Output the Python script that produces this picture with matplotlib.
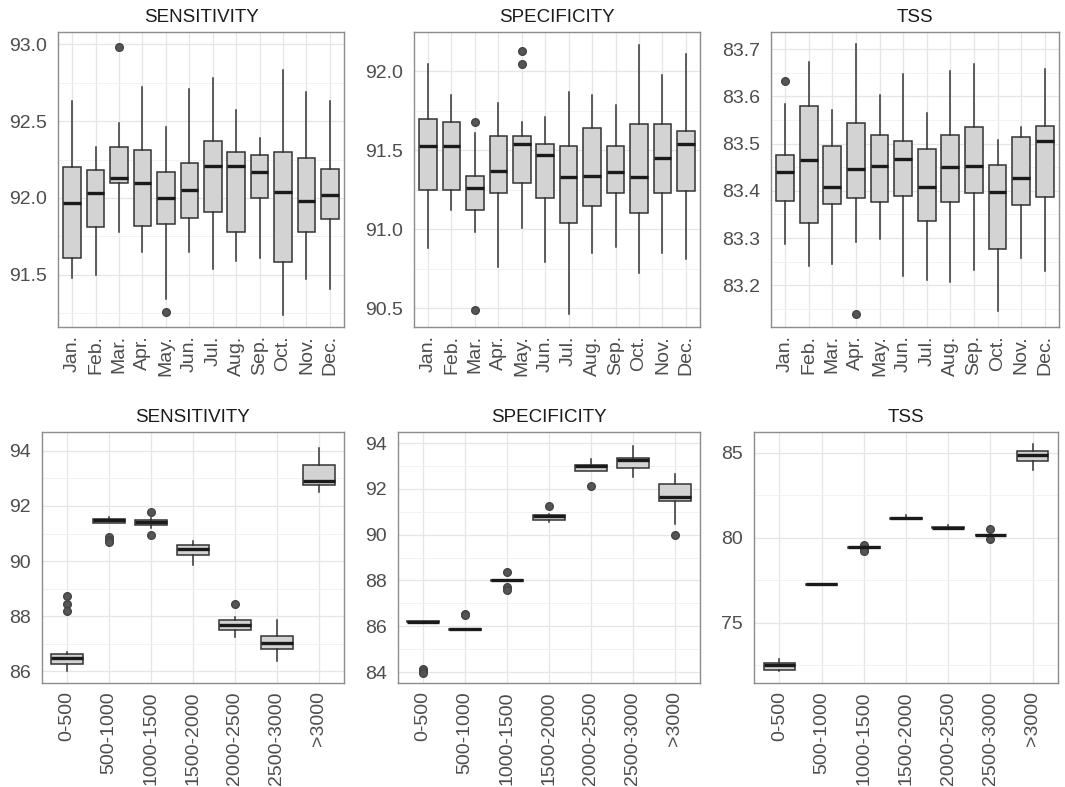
import matplotlib.pyplot as plt
from matplotlib.ticker import MultipleLocator, AutoMinorLocator, FormatStrFormatter

plt.rcParams['font.family'] = ['Liberation Sans', 'DejaVu Sans']

months = ["Jan.", "Feb.", "Mar.", "Apr.", "May.", "Jun.", "Jul.", "Aug.", "Sep.", "Oct.", "Nov.", "Dec."]
ranges = ["0-500", "500-1000", "1000-1500", "1500-2000", "2000-2500", "2500-3000", ">3000"]

# --- monthly sensitivity
sens_m_lo  = [91.48, 91.50, 91.78, 91.65, 91.34, 91.65, 91.54, 91.59, 91.61, 91.24, 91.47, 91.41]
sens_m_q1  = [91.61, 91.81, 92.10, 91.82, 91.83, 91.87, 91.91, 91.78, 92.00, 91.58, 91.78, 91.86]
sens_m_med = [91.97, 92.03, 92.13, 92.10, 92.00, 92.05, 92.21, 92.21, 92.17, 92.04, 91.98, 92.02]
sens_m_q3  = [92.20, 92.18, 92.33, 92.31, 92.17, 92.23, 92.37, 92.30, 92.28, 92.30, 92.26, 92.19]
sens_m_hi  = [92.63, 92.33, 92.49, 92.72, 92.46, 92.71, 92.78, 92.57, 92.39, 92.83, 92.69, 92.63]
sens_m_out = [[], [], [92.98], [], [91.26], [], [], [], [], [], [], []]

# --- monthly specificity
spec_m_lo  = [90.88, 91.12, 90.98, 90.76, 91.01, 90.79, 90.46, 90.85, 90.89, 90.72, 90.85, 90.81]
spec_m_q1  = [91.25, 91.25, 91.12, 91.23, 91.29, 91.20, 91.04, 91.15, 91.23, 91.10, 91.23, 91.24]
spec_m_med = [91.53, 91.53, 91.26, 91.37, 91.54, 91.47, 91.33, 91.34, 91.36, 91.33, 91.45, 91.54]
spec_m_q3  = [91.70, 91.68, 91.34, 91.59, 91.59, 91.54, 91.53, 91.64, 91.53, 91.67, 91.67, 91.62]
spec_m_hi  = [92.05, 91.85, 91.61, 91.80, 91.68, 91.71, 91.87, 91.85, 91.79, 92.17, 91.98, 92.11]
spec_m_out = [[], [], [91.68, 90.49], [], [92.13, 92.05], [], [], [], [], [], [], []]

# --- monthly TSS
tss_m_lo  = [83.288, 83.242, 83.245, 83.292, 83.298, 83.220, 83.211, 83.208, 83.233, 83.145, 83.258, 83.230]
tss_m_q1  = [83.379, 83.333, 83.373, 83.385, 83.376, 83.390, 83.337, 83.376, 83.395, 83.278, 83.370, 83.388]
tss_m_med = [83.440, 83.465, 83.409, 83.446, 83.453, 83.468, 83.409, 83.450, 83.453, 83.397, 83.427, 83.506]
tss_m_q3  = [83.476, 83.579, 83.494, 83.543, 83.519, 83.506, 83.488, 83.519, 83.535, 83.455, 83.513, 83.538]
tss_m_hi  = [83.584, 83.672, 83.570, 83.711, 83.603, 83.648, 83.564, 83.654, 83.669, 83.508, 83.536, 83.658]
tss_m_out = [[83.632], [], [], [83.140], [], [], [], [], [], [], [], []]

# --- sensitivity by range
sens_r_lo  = [86.00, 91.38, 91.21, 89.85, 87.26, 86.37, 92.50]
sens_r_q1  = [86.27, 91.38, 91.30, 90.24, 87.52, 86.81, 92.76]
sens_r_med = [86.48, 91.48, 91.42, 90.44, 87.67, 87.02, 92.92]
sens_r_q3  = [86.65, 91.54, 91.48, 90.58, 87.86, 87.29, 93.48]
sens_r_hi  = [86.70, 91.61, 91.58, 90.74, 87.96, 87.88, 94.11]
sens_r_out = [[88.75, 88.45, 88.21], [90.86, 90.77, 90.70], [91.79, 90.94], [], [88.44], [], []]

# --- specificity by range
spec_r_lo  = [86.18, 85.85, 87.98, 90.55, 92.80, 92.50, 90.45]
spec_r_q1  = [86.18, 85.85, 87.98, 90.62, 92.80, 92.90, 91.45]
spec_r_med = [86.20, 85.87, 88.00, 90.80, 93.00, 93.25, 91.65]
spec_r_q3  = [86.22, 85.88, 88.02, 90.85, 93.05, 93.35, 92.20]
spec_r_hi  = [86.22, 85.88, 88.02, 90.90, 93.30, 93.85, 92.65]
spec_r_out = [[84.15, 84.05, 83.98], [86.55, 86.48], [88.35, 87.72, 87.60], [91.25], [92.12], [], [89.98]]

# --- TSS by range
tss_r_lo  = [72.15, 77.22, 79.36, 81.08, 80.52, 80.12, 83.96]
tss_r_q1  = [72.22, 77.24, 79.38, 81.10, 80.55, 80.14, 84.49]
tss_r_med = [72.48, 77.26, 79.43, 81.14, 80.59, 80.16, 84.84]
tss_r_q3  = [72.62, 77.28, 79.46, 81.17, 80.62, 80.18, 85.08]
tss_r_hi  = [72.87, 77.30, 79.50, 81.34, 80.75, 80.20, 85.53]
tss_r_out = [[], [], [79.57, 79.31, 79.19], [], [], [80.49, 79.92], []]

panels = [
    ("SENSITIVITY", months, sens_m_lo, sens_m_q1, sens_m_med, sens_m_q3, sens_m_hi, sens_m_out, 0.5, (91.16, 93.08), "%.1f"),
    ("SPECIFICITY", months, spec_m_lo, spec_m_q1, spec_m_med, spec_m_q3, spec_m_hi, spec_m_out, 0.5, (90.38, 92.25), "%.1f"),
    ("TSS", months, tss_m_lo, tss_m_q1, tss_m_med, tss_m_q3, tss_m_hi, tss_m_out, 0.1, (83.112, 83.736), "%.1f"),
    ("SENSITIVITY", ranges, sens_r_lo, sens_r_q1, sens_r_med, sens_r_q3, sens_r_hi, sens_r_out, 2, (85.58, 94.68), "%d"),
    ("SPECIFICITY", ranges, spec_r_lo, spec_r_q1, spec_r_med, spec_r_q3, spec_r_hi, spec_r_out, 2, (83.52, 94.48), "%d"),
    ("TSS", ranges, tss_r_lo, tss_r_q1, tss_r_med, tss_r_q3, tss_r_hi, tss_r_out, 5, (71.44, 86.22), "%d"),
]

# axes rectangles in figure fractions (left, bottom, width, height)
rects = [
    (0.0545, 0.5845, 0.2685, 0.3748),
    (0.3887, 0.5845, 0.2685, 0.3748),
    (0.7239, 0.5845, 0.2704, 0.3748),
    (0.0394, 0.1321, 0.2836, 0.3189),
    (0.3737, 0.1321, 0.2836, 0.3189),
    (0.7080, 0.1321, 0.2854, 0.3189),
]

fig = plt.figure(figsize=(10.65, 7.87), dpi=100)

for rect, (title, cats, lo, q1, med, q3, hi, out, step, ylim, fmt) in zip(rects, panels):
    ax = fig.add_axes(rect)
    stats = []
    for i in range(len(cats)):
        stats.append({"whislo": lo[i], "q1": q1[i], "med": med[i], "q3": q3[i],
                      "whishi": hi[i], "fliers": out[i], "label": cats[i]})
    pos = list(range(1, len(cats) + 1))
    ax.bxp(stats, positions=pos, widths=0.75, patch_artist=True, showcaps=False,
           boxprops=dict(facecolor="#d3d3d3", edgecolor="#333333", linewidth=1.1),
           whiskerprops=dict(color="#333333", linewidth=1.1),
           medianprops=dict(color="#1a1a1a", linewidth=2.4),
           flierprops=dict(marker="o", markerfacecolor="#555555", markeredgecolor="#444444",
                           markersize=5.5))
    ax.set_xlim(0.4, len(cats) + 0.6)
    ax.set_ylim(*ylim)
    ax.yaxis.set_major_locator(MultipleLocator(step))
    ax.yaxis.set_minor_locator(AutoMinorLocator(2))
    ax.yaxis.set_major_formatter(FormatStrFormatter(fmt))
    ax.set_xticks(pos)
    ax.set_xticklabels(cats, rotation=90, fontsize=14, color="#4d4d4d")
    ax.tick_params(axis="y", labelsize=14, labelcolor="#4d4d4d", pad=8)
    ax.tick_params(axis="x", pad=6)
    ax.tick_params(which="both", length=0)
    ax.set_axisbelow(True)
    ax.grid(True, which="major", color="#e6e6e6", linewidth=0.9)
    ax.grid(True, which="minor", axis="y", color="#f0f0f0", linewidth=0.6)
    for sp in ax.spines.values():
        sp.set_color("#8c8c8c")
        sp.set_linewidth(1.0)
    ax.set_title(title, fontsize=13.5, color="#1a1a1a", pad=7)

fig.savefig("out.png", dpi=100, facecolor="white")
